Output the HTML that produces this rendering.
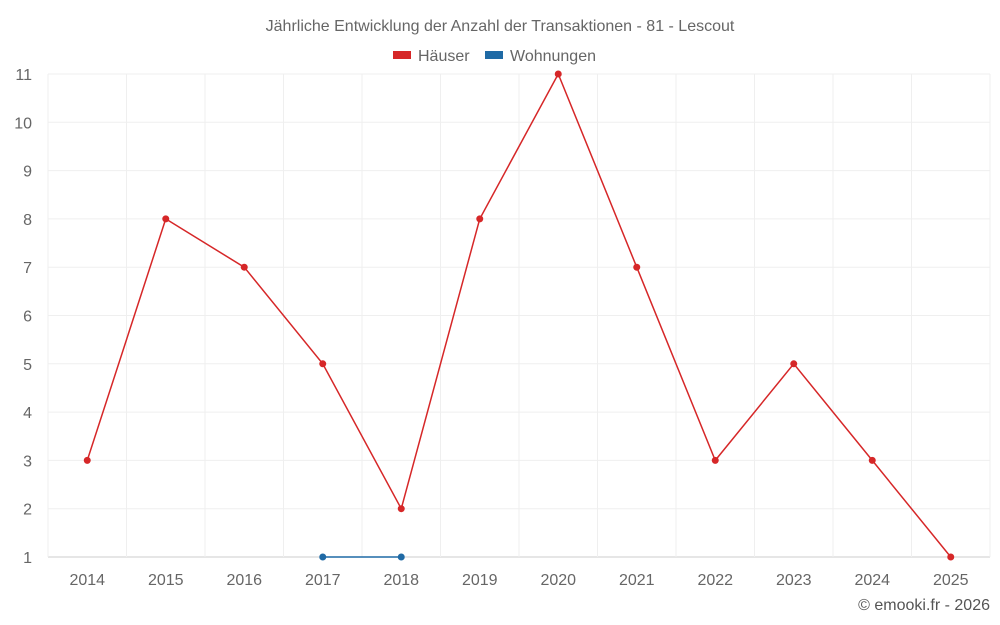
<!DOCTYPE html>
<html><head><meta charset="utf-8"><style>
html,body{margin:0;padding:0;background:#fff;}
svg{display:block;font-family:"Liberation Sans",Roboto,sans-serif;}
</style></head><body>
<svg id="chart" width="1000" height="625">
<text x="500" y="31" text-anchor="middle" font-size="16" fill="#666">Jährliche Entwicklung der Anzahl der Transaktionen - 81 - Lescout</text>
<g>
<g><rect x="393" y="51" width="18" height="8" fill="#d62728"></rect><text x="418" y="61" font-size="16" fill="#666">Häuser</text></g>
<g><rect x="485" y="51" width="18" height="8" fill="#1f6aa5"></rect><text x="510" y="61" font-size="16" fill="#666">Wohnungen</text></g>
</g>
<g id="grid"></g><g id="axes"></g><g id="series"></g>
<text x="990" y="610" text-anchor="end" font-size="16" fill="#555">© emooki.fr - 2026</text>
</svg>
<script>
const categories=["2014","2015","2016","2017","2018","2019","2020","2021","2022","2023","2024","2025"];
const haeuser=[3,8,7,5,2,8,11,7,3,5,3,1];
const wohnungen=[null,null,null,1,1,null,null,null,null,null,null,null];
const yTicks=[1,2,3,4,5,6,7,8,9,10,11];
const L=48,R=990,T=74,B=557,yMin=1,yMax=11;
const bw=(R-L)/categories.length;
const xS=i=>L+bw*(i+0.5);
const yS=v=>B-(v-yMin)/(yMax-yMin)*(B-T);
const NS="http://www.w3.org/2000/svg";
function mk(tag,attrs,parent){const e=document.createElementNS(NS,tag);for(const k in attrs)e.setAttribute(k,attrs[k]);parent.appendChild(e);return e;}
const grid=document.getElementById('grid'),axes=document.getElementById('axes'),ser=document.getElementById('series');
yTicks.forEach(t=>{
 const y=yS(t);
 const l=mk('line',{x1:L,x2:R,y1:y,y2:y,stroke:t===yMin?'#ccc':'#efefef','stroke-width':1},grid);
 
 
 const tx=mk('text',{x:32,y:y+6,'text-anchor':'end','font-size':16,fill:'#666'},axes);
 tx.textContent=t;
 
 
});
for(let i=0;i<=categories.length;i++){
 const x=L+bw*i;
 const l=mk('line',{x1:x,x2:x,y1:T,y2:B,stroke:'#efefef','stroke-width':1},grid);
 
 
}
categories.forEach((c,i)=>{
 const tx=mk('text',{x:xS(i),y:585,'text-anchor':'middle','font-size':16,fill:'#666'},axes);
 tx.textContent=c;
 
 
});
function draw(vals,color,name){
 let d='';let pen=false;
 vals.forEach((v,i)=>{if(v==null){pen=false;return;}d+=(pen?'L':'M')+xS(i)+','+yS(v);pen=true;});
 const p=mk('path',{d:d,fill:'none',stroke:color,'stroke-width':1.5},ser);
 
 
 vals.forEach((v,i)=>{if(v==null)return;
  const c=mk('circle',{cx:xS(i),cy:yS(v),r:3.5,fill:color},ser);
  
  
 });
}
draw(haeuser,'#d62728','haeuser');
draw(wohnungen,'#1f6aa5','wohnungen');
</script>
</body></html>
